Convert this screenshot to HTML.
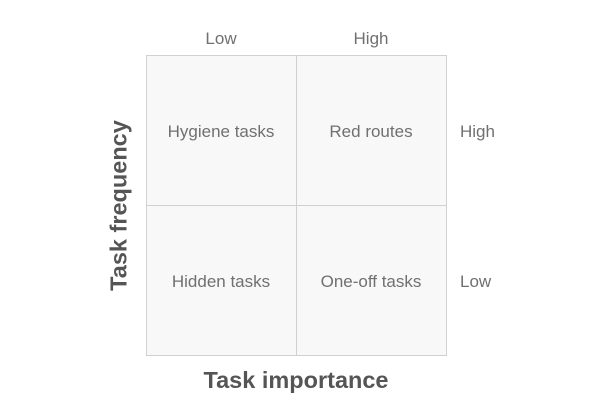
<!DOCTYPE html>
<html><head><meta charset="utf-8"><style>
body{margin:0;width:600px;height:403px;background:#fff;position:relative;overflow:hidden;font-family:"Liberation Sans",sans-serif;}
.c{position:absolute;width:149px;height:149px;background:#f8f8f8;border:1px solid #d0d0d0;box-sizing:content-box;}
.t{position:absolute;color:#707070;font-size:17px;text-align:center;white-space:nowrap;}
.b{position:absolute;color:#555;font-weight:bold;font-size:23.5px;white-space:nowrap;}
</style></head><body>
<div class="c" style="left:146px;top:55px"></div>
<div class="c" style="left:296px;top:55px"></div>
<div class="c" style="left:146px;top:205px"></div>
<div class="c" style="left:296px;top:205px"></div>
<div class="t" style="left:146px;width:150px;top:122px">Hygiene tasks</div>
<div class="t" style="left:296px;width:150px;top:122px">Red routes</div>
<div class="t" style="left:146px;width:150px;top:272px">Hidden tasks</div>
<div class="t" style="left:296px;width:150px;top:272px">One-off tasks</div>
<div class="t" style="left:146px;width:150px;top:29px">Low</div>
<div class="t" style="left:296px;width:150px;top:29px">High</div>
<div class="t" style="left:460px;top:122px">High</div>
<div class="t" style="left:460px;top:272px">Low</div>
<div class="b" style="left:146px;width:300px;text-align:center;top:367px">Task importance</div>
<div class="b" style="left:19px;width:200px;text-align:center;top:192px;transform:rotate(-90deg);">Task frequency</div>
</body></html>
